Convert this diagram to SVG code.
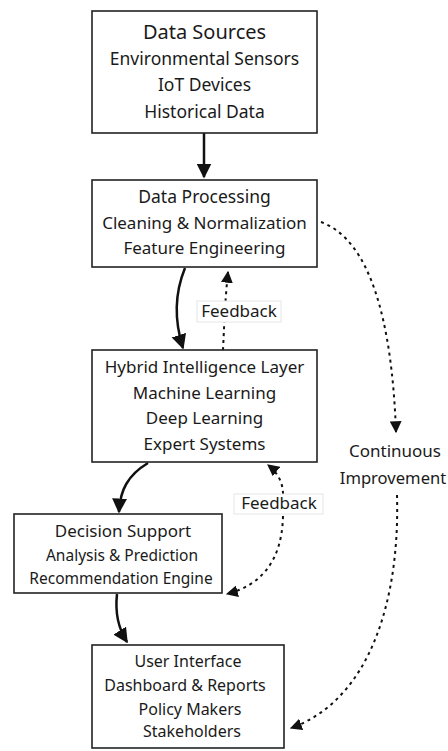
<svg xmlns="http://www.w3.org/2000/svg" width="448" height="751" viewBox="0 0 448 751">
<defs>
<style>
.box{fill:#fff;stroke:#222;stroke-width:1.6}
text{font-family:"Noto Sans","Open Sans","DejaVu Sans",sans-serif;fill:#1a1a1a;text-anchor:middle}
.t{font-size:17px}
.h{font-size:20px}
.s{font-size:17.5px}
.d{font-size:15.5px}
.u{font-size:16px}
.solid{fill:none;stroke:#111;stroke-width:2.5}
.dot{fill:none;stroke:#111;stroke-width:2;stroke-dasharray:3 4}
.lbl{fill:#fff;stroke:#e6e6e6;stroke-width:1}
</style>
<marker id="ah" viewBox="0 0 10 10" refX="9" refY="5" markerWidth="6" markerHeight="6" markerUnits="strokeWidth" orient="auto">
<path d="M0,0 L10,5 L0,10 z" fill="#111"/>
</marker>
<marker id="ahd" viewBox="0 0 10 10" refX="9" refY="5" markerWidth="6" markerHeight="6" markerUnits="strokeWidth" orient="auto">
<path d="M0,0 L10,5 L0,10 z" fill="#111"/>
</marker>
</defs>
<rect width="448" height="751" fill="#fff"/>
<g id="connectors">
<path class="solid" d="M204,133 L204,177" marker-end="url(#ah)"/>
<path class="solid" d="M185,268 C174,295 174,320 183,348" marker-end="url(#ah)"/>
<path class="dot" d="M223,350 C224,330 225,300 228,272" marker-end="url(#ahd)"/>
<path class="solid" d="M148,463 C128,475 120,490 119,512" marker-end="url(#ah)"/>
<path class="solid" d="M117,594 C115,612 118,628 127,642" marker-end="url(#ah)"/>
<path class="dot" d="M283,494 C283,482 277,472 268,465" marker-end="url(#ahd)"/>
<path class="dot" d="M283,516 C282,560 262,585 227,594" marker-end="url(#ahd)"/>
<path class="dot" d="M321,222 C370,240 392,320 396,432" marker-end="url(#ahd)"/>
<path class="dot" d="M397,495 C400,600 370,700 291,728" marker-end="url(#ahd)"/>
<rect class="lbl" x="197" y="301" width="84" height="21"/>
<text class="t" x="239" y="317">Feedback</text>
<rect class="lbl" x="234" y="494" width="89" height="20"/>
<text class="t" x="279" y="509">Feedback</text>
<text class="t" x="395" y="457">Continuous</text>
<text class="t" x="393" y="484" style="font-size:16.6px">Improvement</text>
</g>
<g id="data-sources">
<rect class="box" x="92" y="11" width="225" height="122"/>
<text class="h" x="204.5" y="39">Data Sources</text>
<text class="s" x="204.5" y="65">Environmental Sensors</text>
<text class="s" x="204.5" y="91">IoT Devices</text>
<text class="s" x="204.5" y="118">Historical Data</text>
</g>
<g id="data-processing">
<rect class="box" x="92" y="180" width="225" height="87"/>
<text class="s" x="204.5" y="203">Data Processing</text>
<text class="t" x="204.5" y="229">Cleaning &amp; Normalization</text>
<text class="t" x="204.5" y="254">Feature Engineering</text>
</g>
<g id="hybrid-intelligence">
<rect class="box" x="92" y="350" width="225" height="112"/>
<text class="t" x="204.5" y="373">Hybrid Intelligence Layer</text>
<text class="t" x="204.5" y="399">Machine Learning</text>
<text class="t" x="204.5" y="424">Deep Learning</text>
<text class="t" x="204.5" y="450">Expert Systems</text>
</g>
<g id="decision-support">
<rect class="box" x="14" y="514" width="208" height="79"/>
<text class="t" x="123" y="537">Decision Support</text>
<text class="d" x="122" y="561">Analysis &amp; Prediction</text>
<text class="d" x="121" y="584">Recommendation Engine</text>
</g>
<g id="user-interface">
<rect class="box" x="92" y="645" width="192" height="103"/>
<text class="u" x="188" y="667">User Interface</text>
<text class="u" x="185" y="691">Dashboard &amp; Reports</text>
<text class="u" x="190" y="715">Policy Makers</text>
<text class="u" x="192" y="737">Stakeholders</text>
</g>
</svg>
